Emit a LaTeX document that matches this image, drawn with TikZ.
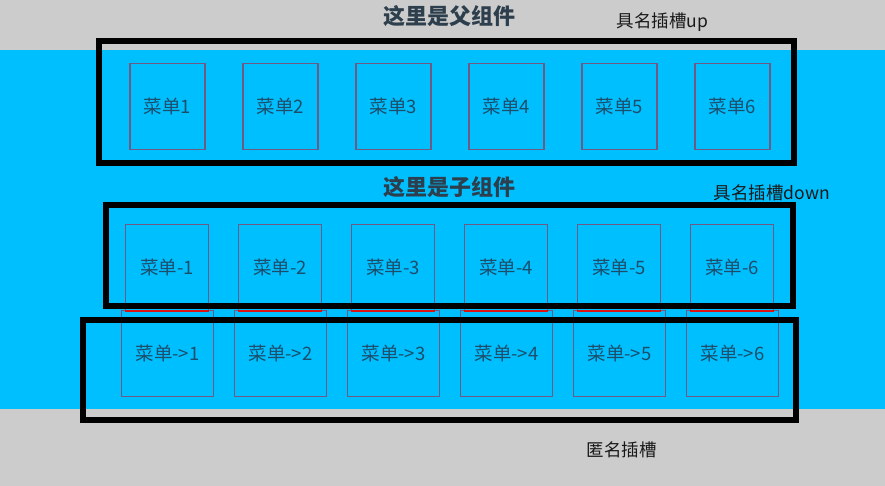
\documentclass[tikz,border=0pt]{standalone}
\usepackage{fontspec}
\setmainfont{Noto Sans CJK SC}
\definecolor{pagegray}{RGB}{204,204,204}
\definecolor{bandblue}{RGB}{0,191,255}
\definecolor{menuline}{RGB}{110,90,130}
\definecolor{menutext}{RGB}{28,78,108}
\definecolor{titletext}{RGB}{45,62,76}
\definecolor{seamred}{RGB}{220,20,20}
\tikzset{
  menu/.style={draw=menuline, line width=1.2pt, text=menutext, font=\fontsize{18.5}{20}\selectfont, minimum height=86pt, inner sep=0pt},
  slotframe/.style={draw=black, line width=6pt, inner sep=0pt},
  title/.style={text=titletext, font=\bfseries\fontsize{22}{24}\selectfont, inner sep=0pt},
  slotlabel/.style={text=black!90, font=\fontsize{17.5}{19}\selectfont, inner sep=0pt},
}
\begin{document}
\begin{tikzpicture}[x=1pt,y=-1pt]
\useasboundingbox (0,0) rectangle (885,486);
\fill[pagegray] (0,0) rectangle (885,486);
\fill[bandblue] (0,50.5) rectangle (885,408.5);
% the three rows of menus
\foreach \k in {1,...,6}{
  \node[menu, minimum width=75pt] (m1-\k) at ({167.5+113*(\k-1)},106.3) {菜单\k};
  \node[menu, minimum width=83pt] (m2-\k) at ({167.2+113*(\k-1)},267.2) {菜单-\k};
  \node[menu, minimum width=92pt] (m3-\k) at ({167.5+113*(\k-1)},353.8) {菜单->\k};
  \draw[seamred, line width=2pt] (m2-\k.south west) -- (m2-\k.south east);
}
% slot frames
\node[slotframe, minimum width=694.7pt, minimum height=122pt] (upslot) at (446.35,102.5) {};
\node[slotframe, minimum width=687.1pt, minimum height=100.8pt] (downslot) at (449.75,255.9) {};
\node[slotframe, minimum width=713.3pt, minimum height=100pt] (anonslot) at (439.35,370) {};
% labels
\node[title] (parent) at (449.7,16) {这里是父组件};
\node[title] (child) at (449.7,187.5) {这里是子组件};
\node[slotlabel] (uplabel) at (662.5,22) {具名插槽up};
\node[slotlabel] (downlabel) at (771.7,193) {具名插槽down};
\node[slotlabel] (anonlabel) at (621.7,450) {匿名插槽};
\end{tikzpicture}
\end{document}
